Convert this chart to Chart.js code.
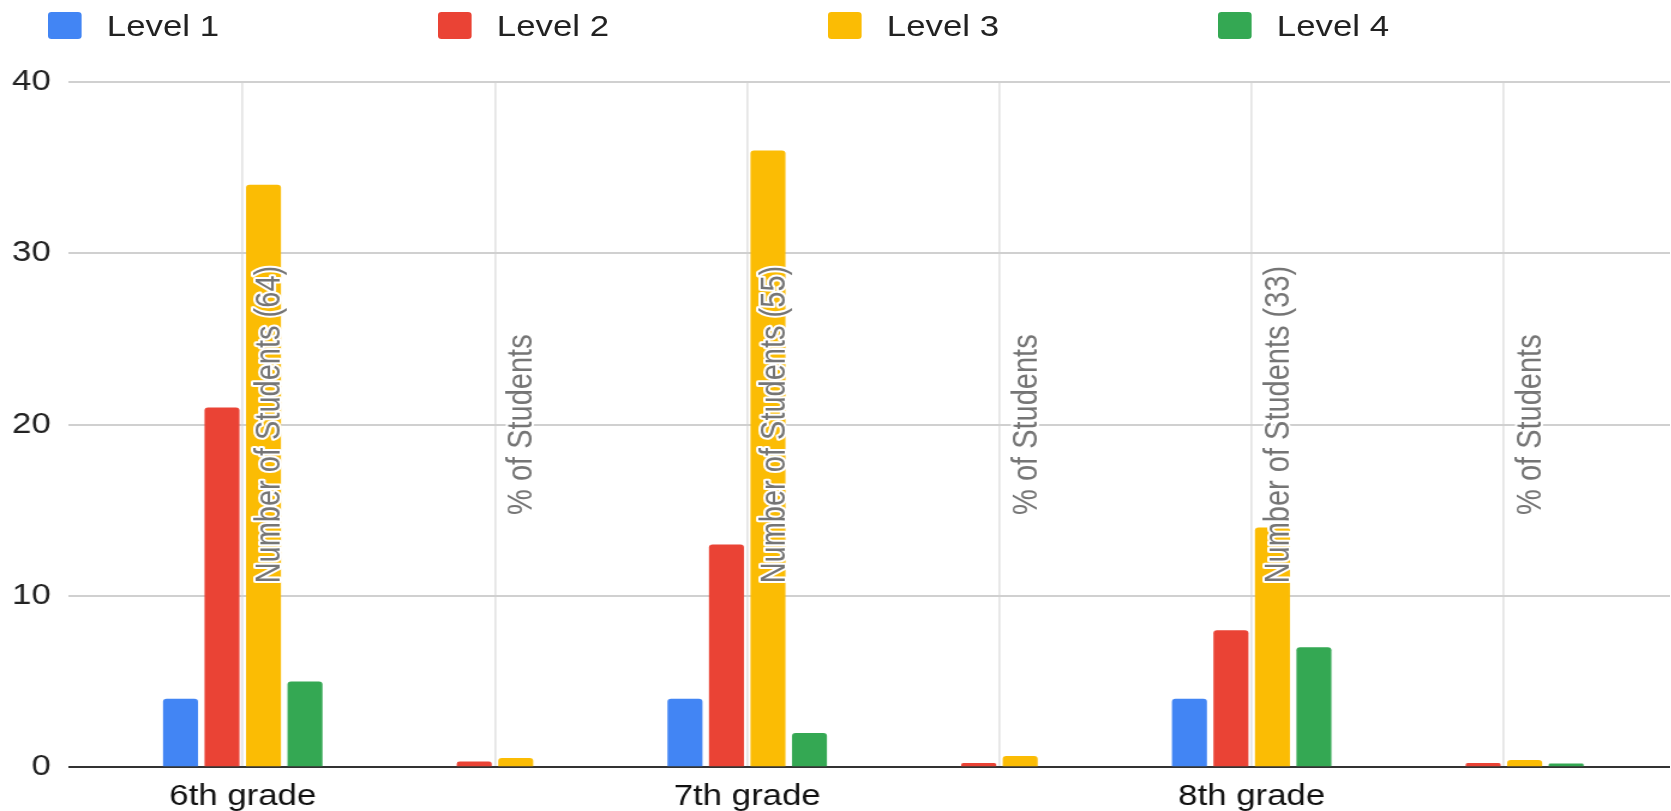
<!DOCTYPE html>
<html>
<head>
<meta charset="utf-8">
<script src="https://cdn.jsdelivr.net/npm/chart.js@4"></script>
<style>
  html, body { margin: 0; padding: 0; background: #fff; overflow: hidden; }
  #wrap { position: relative; width: 1392px; height: 811px; transform: scaleX(1.2); transform-origin: 0 0; }
  #legend { position: absolute; left: 40px; top: 0; display: flex; font: 29px "Liberation Sans", Arial, sans-serif; color: #222; z-index: 2; }
  #legend .item { width: 325px; height: 51px; display: flex; align-items: center; }
  #legend .box { width: 28px; height: 27px; border-radius: 3px; margin-right: 21px; }
  #legend .txt { line-height: 1; margin-top: 2px; }
  #chart { position: absolute; left: 0; top: 0; width: 100%; height: 100%; }
</style>
</head>
<body>
<div id="wrap">
  <div id="legend"></div>
  <div id="chart"><canvas id="levelsChart"></canvas></div>
</div>
<script>
const categories = ['Number of Students (64)', '% of Students', 'Number of Students (55)', '% of Students', 'Number of Students (33)', '% of Students'];
const gradeLabels = ['6th grade', '', '7th grade', '', '8th grade', ''];
const seriesNames = ['Level 1', 'Level 2', 'Level 3', 'Level 4'];
const seriesColors = ['#4285F4', '#EA4335', '#FBBC04', '#34A853'];
const level1 = [4, 0, 4, 0, 4, 0];
const level2 = [21, 0.33, 13, 0.24, 8, 0.24];
const level3 = [34, 0.53, 36, 0.65, 14, 0.42];
const level4 = [5, 0, 2, 0, 7, 0.21];
const yTicks = [0, 10, 20, 30, 40];

const fontFamily = '"Liberation Sans", Arial, sans-serif';
Chart.defaults.font.family = fontFamily;
Chart.defaults.font.size = 29;

const legendEl = document.getElementById('legend');
seriesNames.forEach((name, i) => {
  legendEl.insertAdjacentHTML('beforeend',
    `<div class="item"><span class="box" style="background:${seriesColors[i]}"></span><span class="txt">${name}</span></div>`);
});

// inner category names, drawn rotated inside the plot like the sheet does
const categoryLabels = {
  id: 'categoryLabels',
  afterDatasetsDraw(chart) {
    const { ctx, chartArea, scales: { x } } = chart;
    const midY = (chartArea.top + chartArea.bottom) / 2;
    ctx.save();
    ctx.font = `29px ${fontFamily}`;
    ctx.textAlign = 'center';
    ctx.textBaseline = 'alphabetic';
    ctx.lineJoin = 'round';
    categories.forEach((label, i) => {
      ctx.save();
      ctx.translate(x.getPixelForValue(i) + 31, midY);
      ctx.rotate(-Math.PI / 2);
      ctx.strokeStyle = '#fff';
      ctx.lineWidth = 4;
      ctx.strokeText(label, 0, 0);
      ctx.fillStyle = '#757575';
      ctx.fillText(label, 0, 0);
      ctx.restore();
    });
    ctx.restore();
  }
};

const seriesData = [level1, level2, level3, level4];

new Chart(document.getElementById('levelsChart').getContext('2d'), {
  type: 'bar',
  data: {
    datasets: seriesData.map((vals, s) => ({
      label: seriesNames[s],
      data: vals.map((v, i) => ({ x: i, y: v })),
      backgroundColor: seriesColors[s],
      borderRadius: { topLeft: 3, topRight: 3 },
      borderSkipped: 'bottom',
      categoryPercentage: 0.658,
      barPercentage: 0.843
    }))
  },
  options: {
    responsive: true,
    maintainAspectRatio: false,
    animation: false,
    layout: { padding: { left: -5, right: 0, top: 82, bottom: -15 } },
    plugins: { legend: { display: false }, tooltip: { enabled: false } },
    scales: {
      x: {
        type: 'linear',
        offset: false,
        min: -0.69,
        max: 5.66,
        afterBuildTicks: axis => { axis.ticks = categories.map((_, i) => ({ value: i })); },
        grid: { offset: false, color: '#e4e4e4', lineWidth: 1.7, drawTicks: false },
        border: { display: false },
        ticks: {
          autoSkip: false, maxRotation: 0, padding: 12, color: '#111',
          callback: value => gradeLabels[value] ?? ''
        }
      },
      y: {
        min: 0,
        max: 40,
        afterBuildTicks: axis => { axis.ticks = yTicks.map(v => ({ value: v })); },
        grid: {
          color: c => c.tick && c.tick.value === 0 ? '#333' : '#d0d0d0',
          lineWidth: 2,
          drawTicks: false
        },
        border: { display: false },
        ticks: { padding: 15, color: '#222' }
      }
    }
  },
  plugins: [categoryLabels]
});
</script>
</body>
</html>
